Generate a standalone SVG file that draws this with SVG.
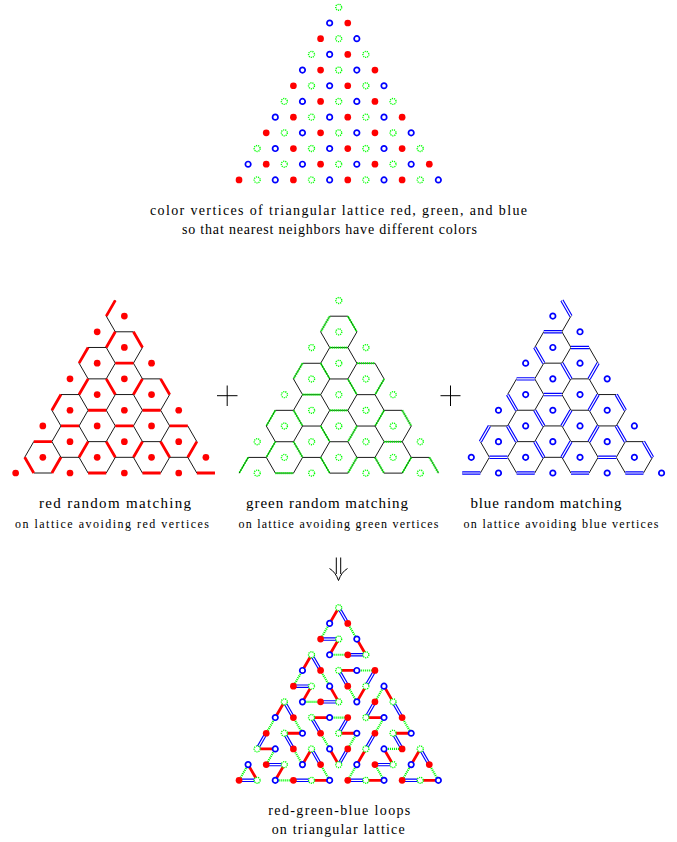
<svg xmlns="http://www.w3.org/2000/svg" xmlns:xlink="http://www.w3.org/1999/xlink" width="677" height="842" viewBox="0 0 677 842">
<style>
.t{font-family:"Liberation Serif","DejaVu Serif",serif;fill:#000}
.e{fill:none;stroke:#000;stroke-width:0.1}
.mr{fill:none;stroke:#f00;stroke-width:0.31}
.mg{fill:none;stroke:#0f0;stroke-width:0.24;stroke-dasharray:0.12 0.1}
.mb{fill:none;stroke:#00f;stroke-width:0.38}
.mbw{fill:none;stroke:#fff;stroke-width:0.13}
.op{fill:none;stroke:#000;stroke-width:1}
</style>
<defs>
<circle id="r" r="0.37" fill="#f00"/>
<circle id="b" r="0.3" fill="#fff" stroke="#00f" stroke-width="0.19"/>
<circle id="g" r="0.33" fill="#fff" stroke="#0f0" stroke-width="0.15" stroke-dasharray="0.13 0.1"/>
<g id="RV">
<use href="#r" x="1" y="1.732"/><use href="#r" x="-2" y="3.464"/><use href="#r" x="1" y="5.196"/>
<use href="#r" x="-2" y="6.928"/><use href="#r" x="4" y="6.928"/>
<use href="#r" x="-5" y="8.66"/><use href="#r" x="1" y="8.66"/>
<use href="#r" x="-2" y="10.392"/><use href="#r" x="4" y="10.392"/>
<use href="#r" x="-5" y="12.124"/><use href="#r" x="1" y="12.124"/><use href="#r" x="7" y="12.124"/>
<use href="#r" x="-8" y="13.856"/><use href="#r" x="-2" y="13.856"/><use href="#r" x="4" y="13.856"/>
<use href="#r" x="-5" y="15.588"/><use href="#r" x="1" y="15.588"/><use href="#r" x="7" y="15.588"/>
<use href="#r" x="-8" y="17.32"/><use href="#r" x="-2" y="17.32"/><use href="#r" x="4" y="17.32"/><use href="#r" x="10" y="17.32"/>
<use href="#r" x="-11" y="19.052"/><use href="#r" x="-5" y="19.052"/><use href="#r" x="1" y="19.052"/><use href="#r" x="7" y="19.052"/>
</g>
<g id="GV">
<use href="#g" x="0" y="0"/><use href="#g" x="0" y="3.464"/>
<use href="#g" x="-3" y="5.196"/><use href="#g" x="3" y="5.196"/>
<use href="#g" x="0" y="6.928"/>
<use href="#g" x="-3" y="8.66"/><use href="#g" x="3" y="8.66"/>
<use href="#g" x="-6" y="10.392"/><use href="#g" x="0" y="10.392"/><use href="#g" x="6" y="10.392"/>
<use href="#g" x="-3" y="12.124"/><use href="#g" x="3" y="12.124"/>
<use href="#g" x="-6" y="13.856"/><use href="#g" x="0" y="13.856"/><use href="#g" x="6" y="13.856"/>
<use href="#g" x="-9" y="15.588"/><use href="#g" x="-3" y="15.588"/><use href="#g" x="3" y="15.588"/><use href="#g" x="9" y="15.588"/>
<use href="#g" x="-6" y="17.32"/><use href="#g" x="0" y="17.32"/><use href="#g" x="6" y="17.32"/>
<use href="#g" x="-9" y="19.052"/><use href="#g" x="-3" y="19.052"/><use href="#g" x="3" y="19.052"/><use href="#g" x="9" y="19.052"/>
</g>
<g id="BV">
<use href="#b" x="-1" y="1.732"/><use href="#b" x="2" y="3.464"/><use href="#b" x="-1" y="5.196"/>
<use href="#b" x="-4" y="6.928"/><use href="#b" x="2" y="6.928"/>
<use href="#b" x="-1" y="8.66"/><use href="#b" x="5" y="8.66"/>
<use href="#b" x="-4" y="10.392"/><use href="#b" x="2" y="10.392"/>
<use href="#b" x="-7" y="12.124"/><use href="#b" x="-1" y="12.124"/><use href="#b" x="5" y="12.124"/>
<use href="#b" x="-4" y="13.856"/><use href="#b" x="2" y="13.856"/><use href="#b" x="8" y="13.856"/>
<use href="#b" x="-7" y="15.588"/><use href="#b" x="-1" y="15.588"/><use href="#b" x="5" y="15.588"/>
<use href="#b" x="-10" y="17.32"/><use href="#b" x="-4" y="17.32"/><use href="#b" x="2" y="17.32"/><use href="#b" x="8" y="17.32"/>
<use href="#b" x="-7" y="19.052"/><use href="#b" x="-1" y="19.052"/><use href="#b" x="5" y="19.052"/><use href="#b" x="11" y="19.052"/>
</g>
<path id="MR" d="M0 0l-1 1.732M0 3.464l-1 1.732M2 3.464l1 1.732M-3 5.196l-1 1.732M-3 8.66l-1 1.732M-1 8.66l1 1.732M0 6.928h2M3 8.66l-1 1.732M5 8.66l1 1.732M6 13.856h2M5 15.588l1 1.732M3 19.052h2M3 15.588l-1 1.732M3 12.124h2M9 19.052h2M9 15.588l-1 1.732M-6 10.392l-1 1.732M-9 15.588h2M-6 17.32l-1 1.732M-3 19.052h2M-3 15.588l-1 1.732M-6 13.856h2M-10 17.32l1 1.732M-3 12.124h2M0 13.856h2M-1 15.588l1 1.732"/>
<path id="MG" d="M1 1.732l1 1.732M-1 5.196h2M-1 1.732l-1 1.732M-4 6.928l-1 1.732M-4 10.392h2M-2 6.928l1 1.732M2 6.928h2M1 8.66l1 1.732M5 8.66l-1 1.732M7 12.124l1 1.732M5 15.588h2M4 17.32l1 1.732M2 17.32l-1 1.732M5 12.124l-1 1.732M10 17.32l1 1.732M8 17.32l-1 1.732M-7 12.124l-1 1.732M-7 15.588l-1 1.732M-7 19.052h2M-2 17.32l1 1.732M-5 15.588l1 1.732M-5 12.124l1 1.732M-10 17.32l-1 1.732M-1 12.124h2M2 13.856l-1 1.732M-2 13.856l1 1.732"/>
<path id="MB" d="M0 0l1 1.732M1 5.196h2M-2 3.464h2M-3 5.196l1 1.732M-5 8.66h2M-2 10.392h2M4 6.928l-1 1.732M0 6.928l1 1.732M6 10.392l1 1.732M6 13.856l1 1.732M4 17.32h2M1 19.052h2M4 13.856l-1 1.732M4 10.392l-1 1.732M7 19.052h2M9 15.588l1 1.732M-6 10.392l1 1.732M-8 13.856l-1 1.732M-8 17.32h2M-5 19.052h2M-3 15.588l1 1.732M-6 13.856l1 1.732M-11 19.052h2M-3 12.124l1 1.732M1 12.124l-1 1.732M1 15.588l-1 1.732"/>
</defs>
<rect width="677" height="842" fill="#fff"/>

<g id="colored-lattice" transform="translate(338.7,7.3) scale(9.06)">
<use href="#RV"/><use href="#GV"/><use href="#BV"/>
</g>
<g id="caption-top">
<text class="t" x="150" y="215" font-size="14" textLength="377" lengthAdjust="spacing">color vertices of triangular lattice red, green, and blue</text>
<text class="t" x="182" y="234" font-size="14" textLength="295" lengthAdjust="spacing">so that nearest neighbors have different colors</text>
</g>

<g id="red-matching" transform="translate(115.3,300.4) scale(9.06)">
<path class="e" d="M0 0l-1 1.732M-1 1.732l1 1.732M0 3.464h2M0 3.464l-1 1.732M2 3.464l1 1.732M-3 5.196h2M-3 5.196l-1 1.732M-1 5.196l1 1.732M3 5.196l-1 1.732M-4 6.928l1 1.732M0 6.928h2M0 6.928l-1 1.732M2 6.928l1 1.732M-3 8.66h2M-3 8.66l-1 1.732M-1 8.66l1 1.732M3 8.66h2M3 8.66l-1 1.732M5 8.66l1 1.732M-6 10.392h2M-6 10.392l-1 1.732M-4 10.392l1 1.732M0 10.392h2M0 10.392l-1 1.732M2 10.392l1 1.732M6 10.392l-1 1.732M-7 12.124l1 1.732M-3 12.124h2M-3 12.124l-1 1.732M-1 12.124l1 1.732M3 12.124h2M3 12.124l-1 1.732M5 12.124l1 1.732M-6 13.856h2M-6 13.856l-1 1.732M-4 13.856l1 1.732M0 13.856h2M0 13.856l-1 1.732M2 13.856l1 1.732M6 13.856h2M6 13.856l-1 1.732M8 13.856l1 1.732M-9 15.588h2M-9 15.588l-1 1.732M-7 15.588l1 1.732M-3 15.588h2M-3 15.588l-1 1.732M-1 15.588l1 1.732M3 15.588h2M3 15.588l-1 1.732M5 15.588l1 1.732M9 15.588l-1 1.732M-10 17.32l1 1.732M-6 17.32h2M-6 17.32l-1 1.732M-4 17.32l1 1.732M0 17.32h2M0 17.32l-1 1.732M2 17.32l1 1.732M6 17.32h2M6 17.32l-1 1.732M8 17.32l1 1.732M-9 19.052h2M-3 19.052h2M3 19.052h2M9 19.052h2"/>
<use href="#MR" class="mr"/>
<use href="#RV"/>
</g>

<g id="green-matching" transform="translate(338.8,300.5) scale(9.06)">
<path class="e" d="M-1 1.732h2M-1 1.732l-1 1.732M1 1.732l1 1.732M-2 3.464l1 1.732M2 3.464l-1 1.732M-1 5.196h2M-1 5.196l-1 1.732M1 5.196l1 1.732M-4 6.928h2M-4 6.928l-1 1.732M-2 6.928l1 1.732M2 6.928h2M2 6.928l-1 1.732M4 6.928l1 1.732M-5 8.66l1 1.732M-1 8.66h2M-1 8.66l-1 1.732M1 8.66l1 1.732M5 8.66l-1 1.732M-4 10.392h2M-4 10.392l-1 1.732M-2 10.392l1 1.732M2 10.392h2M2 10.392l-1 1.732M4 10.392l1 1.732M-7 12.124h2M-7 12.124l-1 1.732M-5 12.124l1 1.732M-1 12.124h2M-1 12.124l-1 1.732M1 12.124l1 1.732M5 12.124h2M5 12.124l-1 1.732M7 12.124l1 1.732M-8 13.856l1 1.732M-4 13.856h2M-4 13.856l-1 1.732M-2 13.856l1 1.732M2 13.856h2M2 13.856l-1 1.732M4 13.856l1 1.732M8 13.856l-1 1.732M-7 15.588h2M-7 15.588l-1 1.732M-5 15.588l1 1.732M-1 15.588h2M-1 15.588l-1 1.732M1 15.588l1 1.732M5 15.588h2M5 15.588l-1 1.732M7 15.588l1 1.732M-10 17.32h2M-10 17.32l-1 1.732M-8 17.32l1 1.732M-4 17.32h2M-4 17.32l-1 1.732M-2 17.32l1 1.732M2 17.32h2M2 17.32l-1 1.732M4 17.32l1 1.732M8 17.32h2M8 17.32l-1 1.732M10 17.32l1 1.732M-7 19.052h2M-1 19.052h2M5 19.052h2"/>
<use href="#MG" class="mg"/>
<use href="#GV"/>
</g>

<g id="blue-matching" transform="translate(561.9,300.4) scale(9.06)">
<path class="e" d="M0 0l1 1.732M1 1.732l-1 1.732M-2 3.464h2M-2 3.464l-1 1.732M0 3.464l1 1.732M-3 5.196l1 1.732M1 5.196h2M1 5.196l-1 1.732M3 5.196l1 1.732M-2 6.928h2M-2 6.928l-1 1.732M0 6.928l1 1.732M4 6.928l-1 1.732M-5 8.66h2M-5 8.66l-1 1.732M-3 8.66l1 1.732M1 8.66h2M1 8.66l-1 1.732M3 8.66l1 1.732M-6 10.392l1 1.732M-2 10.392h2M-2 10.392l-1 1.732M0 10.392l1 1.732M4 10.392h2M4 10.392l-1 1.732M6 10.392l1 1.732M-5 12.124h2M-5 12.124l-1 1.732M-3 12.124l1 1.732M1 12.124h2M1 12.124l-1 1.732M3 12.124l1 1.732M7 12.124l-1 1.732M-8 13.856h2M-8 13.856l-1 1.732M-6 13.856l1 1.732M-2 13.856h2M-2 13.856l-1 1.732M0 13.856l1 1.732M4 13.856h2M4 13.856l-1 1.732M6 13.856l1 1.732M-9 15.588l1 1.732M-5 15.588h2M-5 15.588l-1 1.732M-3 15.588l1 1.732M1 15.588h2M1 15.588l-1 1.732M3 15.588l1 1.732M7 15.588h2M7 15.588l-1 1.732M9 15.588l1 1.732M-8 17.32h2M-8 17.32l-1 1.732M-6 17.32l1 1.732M-2 17.32h2M-2 17.32l-1 1.732M0 17.32l1 1.732M4 17.32h2M4 17.32l-1 1.732M6 17.32l1 1.732M10 17.32l-1 1.732M-11 19.052h2M-5 19.052h2M1 19.052h2M7 19.052h2"/>
<use href="#MB" class="mb"/><use href="#MB" class="mbw"/>
<use href="#BV"/>
</g>

<g id="operators">
<path class="op" d="M217,395.7H237.5M227.2,385.5V406"/>
<path class="op" d="M440.5,395.7H460.5M450.5,385.5V406"/>
<path class="op" d="M336.3,557.5V574M340.7,557.5V574M329.5,568.5Q335.5,572 338.5,580.5Q341.5,572 347.5,568.5"/>
</g>

<g id="caption-middle">
<text class="t" x="115" y="508" font-size="15" text-anchor="middle" textLength="152" lengthAdjust="spacing">red random matching</text>
<text class="t" x="112" y="528" font-size="12" text-anchor="middle" textLength="194" lengthAdjust="spacing">on lattice avoiding red vertices</text>
<text class="t" x="327" y="508" font-size="15" text-anchor="middle" textLength="162" lengthAdjust="spacing">green random matching</text>
<text class="t" x="338.5" y="528" font-size="12" text-anchor="middle" textLength="200" lengthAdjust="spacing">on lattice avoiding green vertices</text>
<text class="t" x="546" y="508" font-size="15" text-anchor="middle" textLength="151" lengthAdjust="spacing">blue random matching</text>
<text class="t" x="561" y="528" font-size="12" text-anchor="middle" textLength="195" lengthAdjust="spacing">on lattice avoiding blue vertices</text>
</g>

<g id="loops" transform="translate(338.7,607.7) scale(9.06)">
<use href="#MR" class="mr"/>
<use href="#MG" class="mg"/>
<use href="#MB" class="mb"/><use href="#MB" class="mbw"/>
<use href="#RV"/><use href="#GV"/><use href="#BV"/>
</g>
<g id="caption-bottom">
<text class="t" x="268.3" y="815" font-size="14" textLength="142" lengthAdjust="spacing">red-green-blue loops</text>
<text class="t" x="271.7" y="834" font-size="14" textLength="133" lengthAdjust="spacing">on triangular lattice</text>
</g>
</svg>
